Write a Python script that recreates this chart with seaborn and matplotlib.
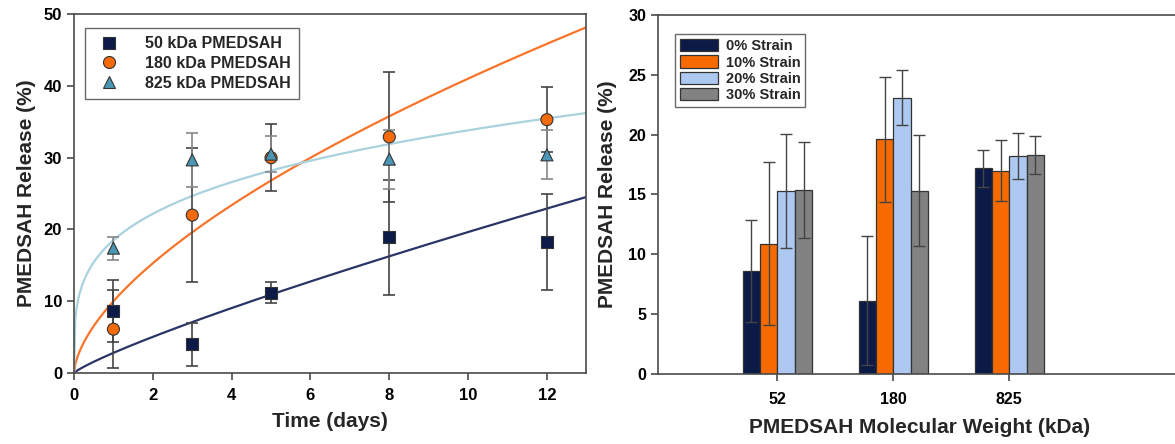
import numpy as np
import pandas as pd
import matplotlib
matplotlib.use("Agg")
import matplotlib.pyplot as plt
import seaborn as sns

# ---- release over time (left panel) ----
days = [1, 3, 5, 8, 12]
series_names = ["50 kDa PMEDSAH", "180 kDa PMEDSAH", "825 kDa PMEDSAH"]
release_50 = [8.6, 4.0, 11.2, 18.9, 18.2]
err_50 = [4.3, 3.0, 1.5, 8.0, 6.7]
release_180 = [6.1, 22.0, 30.0, 32.9, 35.3]
err_180 = [5.4, 9.3, 4.7, 9.1, 4.5]
release_825 = [17.4, 29.7, 30.5, 29.8, 30.4]
err_825 = [1.6, 3.8, 2.5, 4.1, 3.4]

# power-law fit parameters (release = a * t^n)
fit_a = [2.8, 10.0, 18.5]
fit_n = [0.846, 0.613, 0.262]

# ---- release vs strain (right panel) ----
mw_labels = ["52", "180", "825"]
strain_labels = ["0% Strain", "10% Strain", "20% Strain", "30% Strain"]
strain_0 = [8.6, 6.1, 17.2]
strain_0_err = [4.25, 5.4, 1.55]
strain_10 = [10.9, 19.6, 17.0]
strain_10_err = [6.8, 5.2, 2.55]
strain_20 = [15.3, 23.1, 18.2]
strain_20_err = [4.75, 2.3, 1.9]
strain_30 = [15.4, 15.3, 18.3]
strain_30_err = [4.0, 4.65, 1.6]

navy = "#0c1a48"
orange = "#f56a0a"
steel = "#4a96b4"
curve_blue = "#a9d2de"
bar_colors = [navy, "#f66a00", "#adc9f2", "#828282"]
err_color = "#444444"
axis_color = "#4a4a4a"

sns.set_theme(style="ticks")
plt.rcParams["font.family"] = ["Liberation Sans", "DejaVu Sans"]
plt.rcParams["font.weight"] = "bold"

fig = plt.figure(figsize=(11.75, 4.44), dpi=100)
ax1 = fig.add_axes([0.063, 0.160, 0.436, 0.808])
ax2 = fig.add_axes([0.560, 0.158, 0.445, 0.808])

# --- left panel ---
df_t = pd.DataFrame({
    "Day": days * 3,
    "Release": release_50 + release_180 + release_825,
    "Err": err_50 + err_180 + err_825,
    "Series": sum([[s] * len(days) for s in series_names], []),
})
t_fit = np.linspace(0.0, 13.0, 400)
fit_rows = []
for name, a, n in zip(series_names, fit_a, fit_n):
    fit_rows.append(pd.DataFrame({"Day": t_fit, "Fit": a * t_fit ** n, "Series": name}))
df_fit = pd.concat(fit_rows, ignore_index=True)

curve_colors = {series_names[0]: "#2a3466", series_names[1]: "#f8742a", series_names[2]: curve_blue}
sns.lineplot(data=df_fit, x="Day", y="Fit", hue="Series", palette=curve_colors,
             linewidth=1.6, legend=False, ax=ax1, zorder=2)

marker_colors = {series_names[0]: navy, series_names[1]: orange, series_names[2]: steel}
for name in series_names:
    sub = df_t[df_t["Series"] == name]
    ecol = "#888888" if name == series_names[2] else err_color
    ax1.errorbar(sub["Day"], sub["Release"], yerr=sub["Err"], fmt="none",
                 ecolor=ecol, elinewidth=1.2, capsize=4, capthick=1.2, zorder=3)
sns.scatterplot(data=df_t, x="Day", y="Release", hue="Series", style="Series",
                markers={series_names[0]: "s", series_names[1]: "o", series_names[2]: "^"},
                palette=marker_colors, s=75, edgecolor="#333333", linewidth=0.8,
                ax=ax1, zorder=4)

ax1.set_xlim(0, 13)
ax1.set_ylim(0, 50)
ax1.set_xticks([0, 2, 4, 6, 8, 10, 12])
ax1.set_yticks([0, 10, 20, 30, 40, 50])
ax1.set_xlabel("Time (days)", fontsize=15, fontweight="bold", labelpad=6)
ax1.set_ylabel("PMEDSAH Release (%)", fontsize=15, fontweight="bold", labelpad=6)
ax1.tick_params(axis="both", direction="out", length=5, width=1.2, colors=axis_color,
                labelsize=12, labelcolor="black")
ax1.tick_params(axis="x", pad=6)
for sp in ax1.spines.values():
    sp.set_color(axis_color)
    sp.set_linewidth(1.2)
leg1 = ax1.legend(loc="upper left", bbox_to_anchor=(0.021, 0.961), fontsize=11.5,
                  frameon=True, fancybox=False, edgecolor="#444444", borderaxespad=0,
                  borderpad=0.5, handletextpad=1.3, labelspacing=0.3)
leg1.get_frame().set_linewidth(1.0)
for h in leg1.legend_handles:
    if hasattr(h, "set_markeredgecolor"):
        h.set_markeredgecolor("#333333")
    elif hasattr(h, "set_edgecolor"):
        h.set_edgecolor("#333333")

# --- right panel ---
df_b = pd.DataFrame({
    "MW": mw_labels * 4,
    "Release": strain_0 + strain_10 + strain_20 + strain_30,
    "Err": strain_0_err + strain_10_err + strain_20_err + strain_30_err,
    "Strain": sum([[s] * len(mw_labels) for s in strain_labels], []),
})
sns.barplot(data=df_b, x="MW", y="Release", hue="Strain", palette=bar_colors,
            width=0.6, errorbar=None, edgecolor="#333333", linewidth=0.9,
            saturation=1, ax=ax2)
for cont, strain in zip(ax2.containers, strain_labels):
    sub = df_b[df_b["Strain"] == strain]
    xs = [b.get_x() + b.get_width() / 2 for b in cont]
    ax2.errorbar(xs, sub["Release"], yerr=sub["Err"], fmt="none", ecolor=err_color,
                 elinewidth=1.0, capsize=4, capthick=1.0, zorder=5)

ax2.set_xlim(-1.03, 3.48)
ax2.set_ylim(0, 30)
ax2.set_yticks([0, 5, 10, 15, 20, 25, 30])
ax2.set_xlabel("PMEDSAH Molecular Weight (kDa)", fontsize=15, fontweight="bold", labelpad=8)
ax2.set_ylabel("PMEDSAH Release (%)", fontsize=15, fontweight="bold", labelpad=8)
ax2.tick_params(axis="both", direction="out", length=5, width=1.2, colors=axis_color,
                labelsize=11.5, labelcolor="black")
ax2.tick_params(axis="x", pad=8)
for sp in ax2.spines.values():
    sp.set_color(axis_color)
    sp.set_linewidth(1.2)
ax2.spines["right"].set_visible(False)
leg2 = ax2.legend(loc="upper left", bbox_to_anchor=(0.033, 0.947), fontsize=10.5,
                  frameon=True, fancybox=False, edgecolor="#444444", borderaxespad=0,
                  borderpad=0.35, handlelength=2.6, handleheight=0.9,
                  handletextpad=0.5, labelspacing=0.15)
leg2.get_frame().set_linewidth(1.0)

fig.savefig("out.png", dpi=100)
